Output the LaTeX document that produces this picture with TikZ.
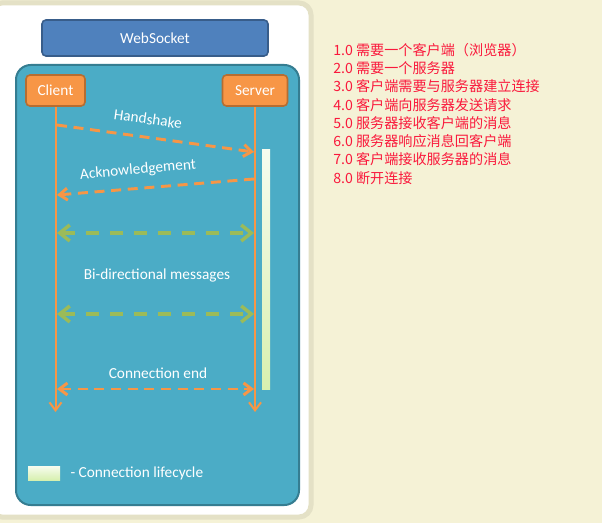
\documentclass[tikz,border=0pt]{standalone}
\usepackage{fontspec}
\setmainfont{Carlito}
\newfontfamily\cjk{Noto Sans CJK SC}
\usetikzlibrary{positioning, arrows.meta}
\definecolor{pagebg}{RGB}{245,242,214}
\definecolor{panelrim}{RGB}{228,225,198}
\definecolor{wsblue}{RGB}{79,129,189}
\definecolor{wsrim}{RGB}{56,93,138}
\definecolor{teal}{RGB}{75,172,198}
\definecolor{tealrim}{RGB}{53,125,145}
\definecolor{actor}{RGB}{247,150,70}
\definecolor{actorrim}{RGB}{182,109,49}
\definecolor{msggreen}{RGB}{155,187,89}
\definecolor{life}{RGB}{215,240,175}
\definecolor{notered}{RGB}{250,25,60}
\tikzset{
  panel/.style={
    draw=panelrim, line width=3.75pt,
    fill=white, rounded corners=9pt,
  },
  title box/.style={
    minimum width=169.5pt,
    minimum height=27pt,
    draw=wsrim, line width=1.2pt, fill=wsblue,
    rounded corners=3pt, text=white,
  },
  frame/.style={
    minimum width=212.25pt,
    minimum height=330pt,
    draw=tealrim, line width=1.5pt, fill=teal,
    rounded corners=11pt,
  },
  actor box/.style={
    minimum height=23.25pt,
    draw=actorrim, line width=1.2pt, fill=actor,
    rounded corners=3pt, text=white,
  },
  lifeline/.style={
    draw=actor, line width=1.5pt,
    -{Straight Barb[length=6pt, width=9pt]},
  },
  msg/.style={
    draw=actor, line width=2.2pt,
    dash pattern=on 7.5pt off 5pt,
    -{Straight Barb[length=6pt, width=9pt]},
  },
  both msg/.style={
    draw=msggreen, line width=2.6pt,
    dash pattern=on 10pt off 8pt,
    {Straight Barb[length=7.5pt, width=12pt]}-{Straight Barb[length=7.5pt, width=12pt]},
  },
  lifecycle/.style={
    minimum width=#1,
    inner sep=0pt, draw=none,
    top color=white!80!life, bottom color=life,
  },
  label text/.style={text=white, inner sep=1pt},
  note/.style={
    anchor=west, inner sep=0pt,
    text=notered, font=\cjk\fontsize{10.6}{12}\selectfont,
  },
}

\begin{document}
\begin{tikzpicture}[x=0.75pt, y=-0.75pt, font=\fontsize{11.5}{13.5}\selectfont]
\useasboundingbox (0,0) rectangle (602,523);
\fill[pagebg] (0,0) rectangle (602,523);
\draw[panel] (-10,3) rectangle (311,517);

\node[title box] (ws) at (155,38) {WebSocket};
\node[frame] (area) at (157.5,285) {};
\node[actor box, minimum width=44.25pt] (client) at (55.5,90.5) {Client};
\node[actor box, minimum width=48.75pt] (server) at (255,90.5) {Server};

% lifelines
\coordinate (client end) at (client.south |- 0,412);
\coordinate (server end) at (server.south |- 0,412);
\draw[lifeline] (client.south) -- (client end);
\draw[lifeline] (server.south) -- (server end);

\node[lifecycle=6pt, minimum height=179.25pt] (bar) at (266,269.5) {};

\foreach \n/\yc/\ys in { 1/125/152, 2/195/179, 3/233/233, 4/314/314, 5/389/389 } {
  \coordinate (c-\n) at (57,\yc);
  \coordinate (s-\n) at (254,\ys);
}
\draw[msg] (c-1) -- (s-1);
\draw[msg] (s-2) -- (c-2);
\draw[both msg] (c-3) -- (s-3);
\draw[both msg] (c-4) -- (s-4);
\draw[msg, {Straight Barb[length=6pt, width=9pt]}-{Straight Barb[length=6pt, width=9pt]}] (c-5) -- (s-5);

\node[label text, rotate=-8] (hs) at (148,119) {Handshake};
\node[label text, rotate=5] (ack) at (138,170) {Acknowledgement};
\node[label text] (bidi) at (157,275) {Bi-directional messages};
\node[label text] (close) at (158,373) {Connection end};

% legend
\node[lifecycle=24pt, minimum height=10.5pt] (key) at (44,473) {};
\node[label text, right=6.5pt of key] (key text) {- Connection lifecycle};

% steps
\foreach \t [count=\i] in {
  1.0 需要一个客户端（浏览器）,
  2.0 需要一个服务器,
  3.0 客户端需要与服务器建立连接,
  4.0 客户端向服务器发送请求,
  5.0 服务器接收客户端的消息,
  6.0 服务器响应消息回客户端,
  7.0 客户端接收服务器的消息,
  8.0 断开连接 }
  \node[note] (step-\i) at (333, 31.5+\i*18.3) {\t};
\end{tikzpicture}
\end{document}
